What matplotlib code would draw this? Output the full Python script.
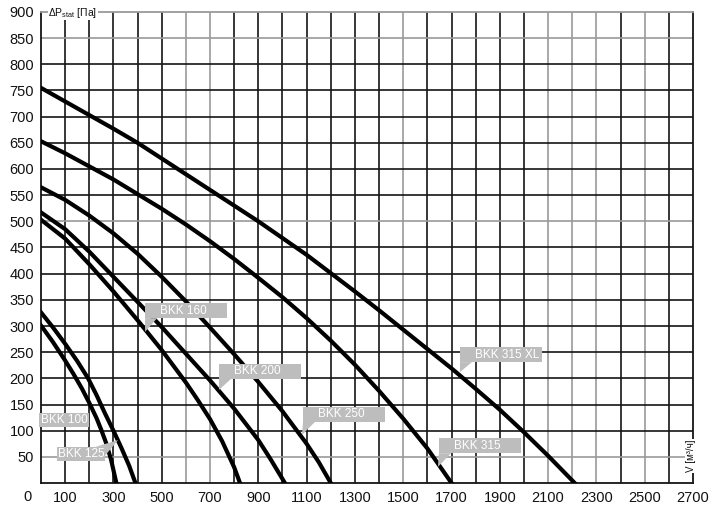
import matplotlib
matplotlib.use("Agg")
import matplotlib.pyplot as plt
from matplotlib.patches import Rectangle, Polygon

plt.rcParams['font.family'] = ['Liberation Sans', 'DejaVu Sans']
plt.rcParams['mathtext.default'] = 'regular'

# расход V [м3/ч] и давление dP [Па] для каждой модели
flow_100 = [0, 50, 100, 135, 170, 200, 230, 250, 270, 290, 312]
p_100 = [301, 269, 234, 208, 180, 153, 124, 101, 76, 45, 0]
flow_125 = [0, 50, 100, 150, 195, 230, 265, 300, 333, 365, 391]
p_125 = [326, 297, 266, 233, 200, 168, 133, 100, 67, 33, 0]
flow_160 = [0, 100, 200, 300, 400, 500, 600, 650, 700, 750, 800, 824]
p_160 = [503, 467, 418, 366, 311, 254, 192, 158, 122, 80, 30, 0]
flow_200 = [0, 100, 200, 300, 400, 500, 600, 700, 800, 900, 950, 1010]
p_200 = [517, 485, 442, 394, 346, 298, 247, 196, 142, 82, 46, 0]
flow_250 = [0, 100, 200, 300, 400, 500, 600, 700, 800, 900, 1000, 1100, 1150, 1200]
p_250 = [565, 541, 511, 477, 438, 394, 347, 297, 246, 193, 137, 75, 40, 0]
flow_315 = [0, 100, 200, 300, 400, 500, 600, 700, 800, 900, 1000, 1100, 1200, 1300, 1400, 1500, 1600, 1700]
p_315 = [653, 630, 605, 580, 552, 524, 494, 462, 428, 392, 355, 315, 272, 226, 176, 123, 66, 0]
flow_315xl = [0, 100, 200, 300, 400, 500, 600, 700, 800, 900, 1000, 1100, 1200, 1300, 1400,
              1500, 1600, 1700, 1800, 1900, 2000, 2100, 2210]
p_315xl = [755, 729, 703, 677, 650, 620, 590, 560, 530, 500, 468, 436, 401, 366, 330,
           293, 256, 219, 180, 140, 97, 52, 0]

curves = [(flow_100, p_100), (flow_125, p_125), (flow_160, p_160), (flow_200, p_200),
          (flow_250, p_250), (flow_315, p_315), (flow_315xl, p_315xl)]

x_ticks = list(range(100, 2800, 200))
y_ticks = list(range(50, 950, 50))

# подписи: текст, левый нижний угол, ширина, высота, острие хвостика
labels = [
    ("BKK 160", (431, 315), 340, 29, (431, 289)),
    ("BKK 200", (737, 199), 340, 29, (737, 178)),
    ("BKK 250", (1085, 117), 340, 29, (1081, 92)),
    ("BKK 315", (1648, 57), 340, 29, (1644, 31)),
    ("BKK 315 XL", (1735, 231), 340, 29, (1735, 212)),
]

fig = plt.figure(figsize=(7.2, 5.09), dpi=100)
ax = fig.add_axes([41 / 720, 26 / 509, 652 / 720, 471 / 509])
ax.set_xlim(0, 2700)
ax.set_ylim(0, 900)

dark = '#151515'
light = '#9a9a9a'
light_x = [600, 700, 1500, 2100, 2200, 2300, 2500]
light_y = [50, 500, 850]
for x in range(100, 2700, 100):
    ax.axvline(x, color=light if x in light_x else dark, lw=1.2, zorder=1)
for y in range(50, 900, 50):
    ax.axhline(y, color=light if y in light_y else dark, lw=1.2, zorder=1)

for sp in ax.spines.values():
    sp.set_color(dark)
    sp.set_linewidth(1.3)
ax.spines['top'].set_color(light)

for fx, py in curves:
    ax.plot(fx, py, color='black', lw=3.0, solid_joinstyle='round', zorder=3)

ax.set_xticks(x_ticks)
ax.set_yticks(y_ticks)
ax.tick_params(length=0, labelsize=10.5, colors='#111111')
ax.tick_params(axis='x', pad=6)
ax.tick_params(axis='y', pad=5)
fig.text(28 / 720, 1 - 497 / 509, '0', ha='center', va='center', fontsize=10.5, color='#111111')

box_c = '#bdbdbd'
for txt, (x0, y0), w, h, tip in labels:
    ax.add_patch(Rectangle((x0, y0), w, h, fc=box_c, ec='none', zorder=5, clip_on=False))
    ax.add_patch(Polygon([(x0, y0), (x0 + 50, y0), tip], closed=True, fc=box_c, ec='none', zorder=5))
    ax.text(x0 + 62, y0 + h / 2, txt, color='white', fontsize=8.5, ha='left', va='center', zorder=6)

# BKK 100 и BKK 125 у левого края
ax.add_patch(Rectangle((-8, 107), 207, 27, fc=box_c, ec='none', zorder=5, clip_on=False))
ax.text(95, 120.5, "BKK 100", color='white', fontsize=8.5, ha='center', va='center', zorder=6)
ax.add_patch(Rectangle((66, 42), 199, 27, fc=box_c, ec='none', zorder=5))
ax.add_patch(Polygon([(225, 69), (265, 69), (265, 52), (319, 82)], closed=True, fc=box_c, ec='none', zorder=5))
ax.text(165, 55.5, "BKK 125", color='white', fontsize=8.5, ha='center', va='center', zorder=6)

ax.text(30, 893, 'ΔP$_{stat}$ [Па]', fontsize=7.5, ha='left', va='baseline', color='#111111',
        bbox=dict(fc='white', ec='none', pad=0.5), zorder=7, clip_on=False)
ax.text(2692, 52, 'V [м³/ч]', fontsize=7, rotation=90, ha='center', va='center', color='#111111',
        bbox=dict(fc='white', ec='none', pad=0.5), zorder=7, clip_on=False)

fig.savefig('out.png', dpi=100)
